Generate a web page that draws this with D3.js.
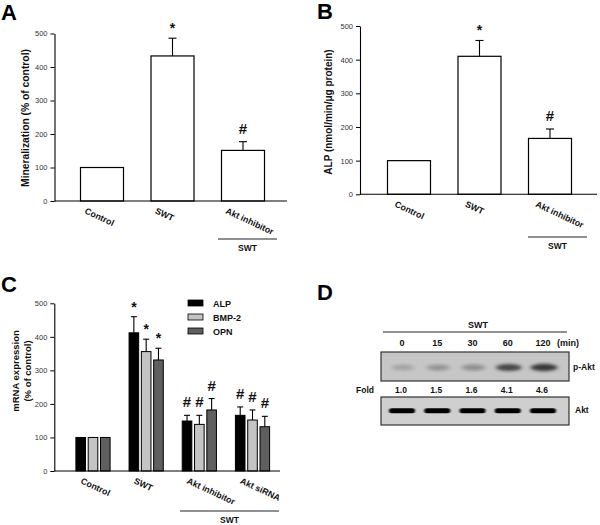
<!DOCTYPE html>
<html><head><meta charset="utf-8">
<script src="https://cdnjs.cloudflare.com/ajax/libs/d3/7.8.5/d3.min.js"></script>
<style>
body{margin:0;background:#fff;}
svg{display:block;font-family:"Liberation Sans",Arial,sans-serif;}
</style></head>
<body>
<svg id="chart" width="600" height="525"></svg>
<script>
// ---- data ----
const catsA = ["Control", "SWT", "Akt inhibitor"];
const mineralMean = [100, 433, 151];
const mineralErr = [0, 53, 26];
const marksA = ["", "*", "#"];

const catsB = ["Control", "SWT", "Akt inhibitor"];
const alpMean = [100, 410, 166];
const alpErr = [0, 47, 28];
const marksB = ["", "*", "#"];

const catsC = ["Control", "SWT", "Akt inhibitor", "Akt siRNA"];
const seriesC = ["ALP", "BMP-2", "OPN"];
const cALP = [100, 412, 149, 166];
const cALPErr = [0, 48, 17, 25];
const cBMP = [100, 356, 139, 152];
const cBMPErr = [0, 37, 27, 30];
const cOPN = [100, 331, 182, 132];
const cOPNErr = [0, 35, 34, 31];
const marksC = ["", "*", "#", "#"];

const yTicks = [0, 100, 200, 300, 400, 500];

const timesD = ["0", "15", "30", "60", "120"];
const foldsD = [1.0, 1.5, 1.6, 4.1, 4.6];

// ---- drawing ----
const svg = d3.select("#chart");
const seriesColors = ["#000000", "#c4c4c4", "#5f5f5f"];

function panelLabel(t, x, y) {
  svg.append("text").attr("x", x).attr("y", y).text(t)
    .attr("font-size", 22).attr("font-weight", "bold").attr("fill", "#000");
}

function yAxis(g, y, x0) {
  const ax = g.append("g").attr("transform", `translate(${x0},0)`)
    .call(d3.axisLeft(y).tickValues(yTicks).tickSize(4).tickPadding(3).tickSizeOuter(0));
  ax.select(".domain").attr("stroke", "#000").attr("stroke-width", 1.1);
  ax.selectAll(".tick line").attr("stroke", "#000");
  ax.selectAll(".tick text").attr("font-size", 7.5).attr("fill", "#333")
    .attr("font-family", "'Liberation Sans',Arial,sans-serif");
}

function yTitle(lines, cx, cy, dy, fs) {
  lines.forEach((t, i) => {
    svg.append("text")
      .attr("transform", `translate(${cx + i * dy},${cy}) rotate(-90)`)
      .attr("text-anchor", "middle").attr("font-size", fs).attr("font-weight", "bold")
      .attr("fill", "#111").text(t);
  });
}

function catLabels(cats, x, axisY, dx) {
  cats.forEach(c => {
    svg.append("text")
      .attr("transform", `translate(${x(c) + dx},${axisY + 12}) rotate(25)`)
      .attr("font-size", 8.8).attr("font-weight", "bold").attr("fill", "#111").text(c);
  });
}

function bracket(x1, x2, y, label) {
  svg.append("line").attr("x1", x1).attr("x2", x2).attr("y1", y).attr("y2", y)
    .attr("stroke", "#222").attr("stroke-width", 1);
  svg.append("text").attr("x", (x1 + x2) / 2).attr("y", y + 12)
    .attr("text-anchor", "middle").attr("font-size", 8.5).attr("font-weight", "bold")
    .attr("fill", "#111").text(label);
}

function errorBar(cx, yTop, yErr, cap) {
  svg.append("line").attr("x1", cx).attr("x2", cx).attr("y1", yTop).attr("y2", yErr)
    .attr("stroke", "#000").attr("stroke-width", 1.1);
  svg.append("line").attr("x1", cx - cap / 2).attr("x2", cx + cap / 2).attr("y1", yErr).attr("y2", yErr)
    .attr("stroke", "#000").attr("stroke-width", 1.1);
}

function mark(t, cx, yErr) {
  if (!t) return;
  svg.append("text").attr("x", cx).attr("y", t === "*" ? yErr - 5 : yErr - 8)
    .attr("text-anchor", "middle").attr("font-size", t === "*" ? 14 : 15)
    .attr("font-weight", "bold").attr("fill", "#111").text(t);
}

function simplePanel(opt) {
  const y = d3.scaleLinear().domain([0, 500]).range([opt.y0, opt.y500]);
  const x = d3.scalePoint().domain(opt.cats).range(opt.xr);
  const g = svg.append("g");
  g.selectAll("rect").data(opt.cats).join("rect")
    .attr("x", d => x(d) - opt.bw / 2).attr("width", opt.bw)
    .attr("y", (d, i) => y(opt.mean[i])).attr("height", (d, i) => y(0) - y(opt.mean[i]))
    .attr("fill", "#fff").attr("stroke", "#000").attr("stroke-width", 1.2);
  opt.cats.forEach((c, i) => {
    if (opt.err[i] > 0) errorBar(x(c), y(opt.mean[i]), y(opt.mean[i] + opt.err[i]), 8);
    mark(opt.marks[i], x(c), y(opt.mean[i] + opt.err[i]));
  });
  svg.append("line").attr("x1", opt.ax).attr("x2", opt.axEnd).attr("y1", y(0)).attr("y2", y(0))
    .attr("stroke", "#000").attr("stroke-width", 1.1);
  yAxis(svg.append("g"), y, opt.ax);
  catLabels(opt.cats, x, y(0), opt.labelDx);
  return { x, y };
}

// Panel A
panelLabel("A", 1, 20);
simplePanel({ cats: catsA, mean: mineralMean, err: mineralErr, marks: marksA,
  y0: 201, y500: 33.5, xr: [102, 243], bw: 43, ax: 54.5, axEnd: 287, labelDx: -18 });
yTitle(["Mineralization (% of control)"], 28.5, 118, 0, 10.3);
bracket(218, 277, 239, "SWT");

// Panel B
panelLabel("B", 317, 19);
simplePanel({ cats: catsB, mean: alpMean, err: alpErr, marks: marksB,
  y0: 194.3, y500: 26, xr: [409, 550], bw: 43, ax: 360, axEnd: 597, labelDx: -15 });
yTitle(["ALP (nmol/min/\u03bcg protein)"], 331.5, 112, 0, 10);
bracket(528, 587, 237, "SWT");

// Panel C
panelLabel("C", 1, 292);
{
  const y = d3.scaleLinear().domain([0, 500]).range([471, 303.3]);
  const x = d3.scalePoint().domain(catsC).range([93, 252.5]);
  const xs = d3.scalePoint().domain(seriesC).range([-12.3, 12.3]);
  const bw = 9.6;
  const means = [cALP, cBMP, cOPN];
  const errs = [cALPErr, cBMPErr, cOPNErr];
  seriesC.forEach((s, si) => {
    svg.append("g").selectAll("rect").data(catsC).join("rect")
      .attr("x", d => x(d) + xs(s) - bw / 2).attr("width", bw)
      .attr("y", (d, i) => y(means[si][i])).attr("height", (d, i) => y(0) - y(means[si][i]))
      .attr("fill", seriesColors[si]).attr("stroke", "#000").attr("stroke-width", 1);
    catsC.forEach((c, i) => {
      const cx = x(c) + xs(s);
      if (errs[si][i] > 0) errorBar(cx, y(means[si][i]), y(means[si][i] + errs[si][i]), 6);
      mark(marksC[i], cx, y(means[si][i] + errs[si][i]));
    });
  });
  svg.append("line").attr("x1", 54.3).attr("x2", 280).attr("y1", y(0)).attr("y2", y(0))
    .attr("stroke", "#000").attr("stroke-width", 1.1);
  yAxis(svg.append("g"), y, 54.3);
  catLabels(catsC, x, y(0), -13);
  yTitle(["mRNA expression", "(% of control)"], 19, 371, 11.5, 9.5);
  bracket(180, 279, 511, "SWT");
  const lg = svg.append("g").attr("transform", "translate(188,300)");
  seriesC.forEach((s, i) => {
    lg.append("rect").attr("x", 0).attr("y", i * 14).attr("width", 15).attr("height", 6)
      .attr("fill", seriesColors[i]).attr("stroke", "#000").attr("stroke-width", 0.8);
    lg.append("text").attr("x", 25).attr("y", i * 14 + 6.5).attr("font-size", 9)
      .attr("font-weight", "bold").attr("fill", "#111").text(s);
  });
}

// Panel D
panelLabel("D", 317, 300);
{
  const defs = svg.append("defs");
  defs.append("filter").attr("id", "blurBand").attr("x", "-50%").attr("y", "-100%")
    .attr("width", "200%").attr("height", "300%")
    .append("feGaussianBlur").attr("stdDeviation", "2.2 1.6");
  defs.append("filter").attr("id", "blurAkt").attr("x", "-20%").attr("y", "-100%")
    .attr("width", "140%").attr("height", "300%")
    .append("feGaussianBlur").attr("stdDeviation", "0.8 0.7");

  const x = d3.scalePoint().domain(timesD).range([402, 543]);
  const op = d3.scaleLinear().domain([1, 4.6]).range([0.22, 0.85]);
  const bold = (sel, fs) => sel.attr("font-size", fs).attr("font-weight", "bold").attr("fill", "#111");

  bold(svg.append("text").attr("x", 478).attr("y", 328).attr("text-anchor", "middle"), 9).text("SWT");
  svg.append("line").attr("x1", 383).attr("x2", 567).attr("y1", 332).attr("y2", 332)
    .attr("stroke", "#222").attr("stroke-width", 1);
  timesD.forEach(t => bold(svg.append("text").attr("x", x(t)).attr("y", 346).attr("text-anchor", "middle"), 9).text(t));
  bold(svg.append("text").attr("x", 557).attr("y", 346), 9).text("(min)");

  svg.append("rect").attr("x", 381).attr("y", 352).attr("width", 188).attr("height", 29)
    .attr("fill", "#c6c6c6").attr("stroke", "#333").attr("stroke-width", 1.2);
  svg.append("g").selectAll("ellipse").data(timesD).join("ellipse")
    .attr("cx", d => x(d) + 1).attr("cy", 367.5)
    .attr("rx", (d, i) => 11 + i * 0.6).attr("ry", (d, i) => 2.5 + foldsD[i] * 0.25)
    .attr("fill", "#1e1e1e").attr("fill-opacity", (d, i) => op(foldsD[i]))
    .attr("filter", "url(#blurBand)");
  bold(svg.append("text").attr("x", 573).attr("y", 369.5), 8.5).text("p-Akt");

  bold(svg.append("text").attr("x", 365).attr("y", 393).attr("text-anchor", "middle"), 8.5).text("Fold");
  timesD.forEach((t, i) => bold(svg.append("text").attr("x", x(t) - 1).attr("y", 393).attr("text-anchor", "middle"), 8.5)
    .text(d3.format(".1f")(foldsD[i])));

  svg.append("rect").attr("x", 381).attr("y", 397).attr("width", 188).attr("height", 28)
    .attr("fill", "#cfcfcf").attr("stroke", "#333").attr("stroke-width", 1.2);
  svg.append("g").selectAll("rect").data(timesD).join("rect")
    .attr("x", d => x(d) - 13).attr("y", 408.3).attr("width", 26).attr("height", 5)
    .attr("rx", 2.5).attr("fill", "#050505").attr("filter", "url(#blurAkt)");
  bold(svg.append("text").attr("x", 575).attr("y", 412.5), 8.5).text("Akt");
}
</script>
</body></html>
